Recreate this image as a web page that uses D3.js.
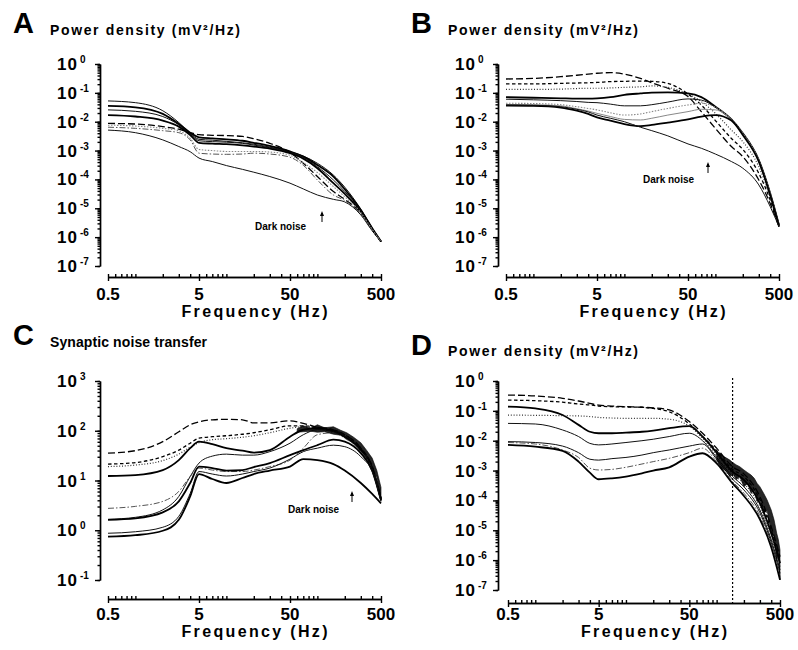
<!DOCTYPE html>
<html>
<head>
<meta charset="utf-8">
<script src="https://cdn.jsdelivr.net/npm/d3@7"></script>
<style>
body { margin: 0; background: #fff; }
svg text { font-family: "Liberation Sans", Arial, sans-serif; font-weight: bold; fill: #000; }
</style>
</head>
<body>
<svg id="fig" width="798" height="650"></svg>
<script>
// frequency grid (Hz) shared by every trace
const freqs = [0.5, 1, 2, 3, 4, 5, 7, 10, 15, 20, 30, 50, 70, 100, 150, 200, 300, 400, 500]

// A: log10 power density (mV^2/Hz)
const aDark    = [-2.29,-2.38,-2.63,-2.86,-3.04,-3.26,-3.38,-3.52,-3.65,-3.75,-3.90,-4.13,-4.33,-4.54,-4.69,-4.78,-5.23,-5.78,-6.15]
const aSolid1  = [-1.28,-1.34,-1.62,-2.03,-2.40,-2.61,-2.64,-2.68,-2.73,-2.78,-2.88,-3.04,-3.19,-3.44,-3.85,-4.27,-5.03,-5.68,-6.15]
const aThick1  = [-1.45,-1.50,-1.73,-2.08,-2.38,-2.54,-2.58,-2.61,-2.66,-2.73,-2.84,-3.03,-3.21,-3.50,-3.90,-4.34,-5.06,-5.69,-6.15]
const aSolid2  = [-1.59,-1.64,-1.82,-2.11,-2.42,-2.66,-2.69,-2.71,-2.75,-2.81,-2.90,-3.06,-3.23,-3.56,-4.02,-4.42,-5.09,-5.70,-6.15]
const aThick2  = [-1.77,-1.82,-1.96,-2.17,-2.46,-2.73,-2.76,-2.78,-2.82,-2.86,-2.93,-3.09,-3.28,-3.61,-4.13,-4.50,-5.12,-5.72,-6.15]
const aDashed  = [-2.06,-2.08,-2.17,-2.26,-2.38,-2.45,-2.47,-2.48,-2.51,-2.59,-2.75,-3.07,-3.44,-3.90,-4.42,-4.69,-5.17,-5.74,-6.15]
const aDotted  = [-2.12,-2.15,-2.23,-2.31,-2.58,-2.96,-3.00,-3.03,-3.03,-3.03,-3.05,-3.16,-3.42,-3.76,-4.25,-4.60,-5.15,-5.73,-6.15]
const aDashDot = [-2.19,-2.23,-2.31,-2.38,-2.63,-3.09,-3.12,-3.13,-3.12,-3.09,-3.12,-3.23,-3.51,-4.02,-4.54,-4.73,-5.20,-5.75,-6.15]

// B: log10 power density (mV^2/Hz)
const bLongDash  = [-0.52,-0.50,-0.44,-0.39,-0.35,-0.32,-0.30,-0.35,-0.50,-0.65,-0.84,-1.13,-1.65,-2.23,-2.86,-3.21,-4.02,-4.83,-5.64]
const bShortDash = [-0.69,-0.69,-0.67,-0.66,-0.65,-0.64,-0.61,-0.60,-0.59,-0.60,-0.67,-1.04,-1.42,-1.96,-2.58,-2.96,-3.79,-4.71,-5.64]
const bDotted    = [-0.88,-0.88,-0.87,-0.85,-0.84,-0.84,-0.83,-0.81,-0.79,-0.76,-0.81,-1.04,-1.30,-1.71,-2.29,-2.69,-3.56,-4.60,-5.61]
const bThick1    = [-1.15,-1.17,-1.19,-1.20,-1.20,-1.19,-1.15,-1.07,-1.02,-0.99,-0.98,-1.02,-1.15,-1.48,-1.92,-2.40,-3.33,-4.48,-5.58]
const bSolid1    = [-1.22,-1.24,-1.27,-1.30,-1.33,-1.34,-1.39,-1.45,-1.45,-1.41,-1.32,-1.21,-1.25,-1.50,-1.92,-2.40,-3.33,-4.48,-5.58]
const bGray1     = [-1.36,-1.37,-1.41,-1.48,-1.54,-1.59,-1.69,-1.77,-1.73,-1.65,-1.54,-1.42,-1.36,-1.50,-1.92,-2.40,-3.33,-4.48,-5.59]
const bGray2     = [-1.40,-1.41,-1.45,-1.55,-1.63,-1.71,-1.82,-1.92,-1.94,-1.88,-1.77,-1.65,-1.57,-1.59,-1.94,-2.42,-3.35,-4.50,-5.60]
const bThick2    = [-1.44,-1.45,-1.51,-1.62,-1.73,-1.85,-1.96,-2.08,-2.15,-2.11,-2.03,-1.92,-1.82,-1.77,-1.96,-2.46,-3.38,-4.54,-5.61]
const bDark      = [-1.42,-1.43,-1.48,-1.57,-1.66,-1.77,-1.88,-2.00,-2.19,-2.31,-2.49,-2.77,-2.92,-3.12,-3.38,-3.61,-4.19,-4.94,-5.64]

// C: log10 synaptic noise transfer
const cLongDash  = [1.55,1.60,1.78,1.98,2.12,2.18,2.22,2.23,2.22,2.16,2.16,2.20,2.15,2.07,2.02,1.92,1.65,1.28,0.64]
const cShortDash = [1.33,1.36,1.48,1.61,1.75,1.85,1.88,1.90,1.93,1.96,2.02,2.10,2.10,2.07,2.02,1.92,1.65,1.28,0.64]
const cDotted    = [1.28,1.31,1.40,1.53,1.67,1.76,1.82,1.84,1.87,1.90,1.96,2.05,2.08,2.07,2.00,1.90,1.63,1.27,0.64]
const cThick1    = [1.09,1.11,1.21,1.41,1.65,1.78,1.73,1.65,1.60,1.56,1.61,1.88,2.02,2.05,2.00,1.88,1.61,1.25,0.62]
const cSolid1    = [0.22,0.26,0.41,0.68,1.08,1.35,1.49,1.53,1.51,1.51,1.58,1.75,1.92,2.02,1.98,1.87,1.60,1.23,0.62]
const cDashDot   = [0.44,0.48,0.58,0.78,1.08,1.25,1.21,1.18,1.18,1.21,1.28,1.41,1.65,1.92,1.96,1.85,1.58,1.21,0.61]
const cThick2    = [0.21,0.24,0.36,0.58,0.95,1.28,1.25,1.20,1.21,1.27,1.35,1.51,1.61,1.71,1.82,1.78,1.55,1.20,0.60]
const cSolid2    = [-0.06,-0.03,0.06,0.28,0.74,1.18,1.13,1.09,1.13,1.18,1.25,1.43,1.58,1.65,1.71,1.68,1.48,1.18,0.58]
const cDark      = [-0.13,-0.10,-0.01,0.21,0.68,1.13,1.03,0.95,1.05,1.13,1.20,1.28,1.43,1.41,1.33,1.20,0.95,0.73,0.54]
// C: noisy high-frequency band (log10 upper / lower edge)
const cBandF  = [60, 70, 85, 100, 120, 150, 180, 210, 250, 300, 350, 400, 450, 500]
const cBandHi = [2.04,2.10,2.05,2.12,2.06,2.08,2.01,1.96,1.87,1.76,1.60,1.45,1.20,0.86]
const cBandLo = [1.97,1.98,1.99,1.97,1.98,1.93,1.91,1.84,1.77,1.60,1.49,1.27,1.06,0.60]

// D: log10 power density (mV^2/Hz)
const dLongDash  = [-0.47,-0.50,-0.58,-0.67,-0.75,-0.81,-0.84,-0.86,-0.88,-0.90,-0.97,-1.36,-1.75,-2.25,-2.87,-3.11,-3.87,-4.88,-5.88]
const dShortDash = [-0.64,-0.66,-0.71,-0.77,-0.80,-0.84,-0.86,-0.87,-0.88,-0.92,-1.03,-1.44,-1.86,-2.33,-2.96,-3.20,-3.98,-4.99,-5.99]
const dThick1    = [-0.86,-0.92,-1.14,-1.47,-1.70,-1.75,-1.75,-1.73,-1.70,-1.66,-1.58,-1.51,-1.86,-2.40,-3.04,-3.31,-4.10,-5.10,-6.10]
const dDotted    = [-1.14,-1.15,-1.16,-1.17,-1.19,-1.22,-1.24,-1.25,-1.25,-1.25,-1.28,-1.51,-1.92,-2.48,-3.11,-3.43,-4.21,-5.21,-6.22]
const dSolid1    = [-1.42,-1.44,-1.64,-1.86,-2.09,-2.14,-2.11,-2.06,-2.00,-1.95,-1.86,-1.75,-2.00,-2.56,-3.20,-3.54,-4.32,-5.32,-6.33]
const dSolid2    = [-2.03,-2.06,-2.18,-2.40,-2.62,-2.65,-2.60,-2.56,-2.48,-2.40,-2.31,-2.18,-2.11,-2.62,-3.29,-3.65,-4.41,-5.41,-6.44]
const dDashDot   = [-2.06,-2.11,-2.31,-2.56,-2.92,-2.98,-2.96,-2.89,-2.78,-2.70,-2.59,-2.40,-2.25,-2.70,-3.37,-3.76,-4.52,-5.49,-6.55]
const dThick2    = [-2.14,-2.20,-2.34,-2.70,-3.07,-3.29,-3.26,-3.20,-3.09,-3.00,-2.89,-2.53,-2.42,-2.76,-3.43,-3.85,-4.63,-5.57,-6.66]
// D: noisy high-frequency band
const dBandF  = [100, 110, 120, 130, 140, 150, 165, 180, 200, 220, 240, 260, 280, 300, 330, 360, 400, 430, 460, 480, 500]
const dBandHi = [-2.37,-2.42,-2.53,-2.59,-2.65,-2.73,-2.81,-2.87,-2.98,-3.07,-3.15,-3.26,-3.43,-3.54,-3.76,-3.98,-4.32,-4.65,-5.10,-5.32,-5.66]
const dBandLo = [-2.65,-2.87,-2.96,-3.04,-3.20,-3.09,-3.31,-3.20,-3.54,-3.43,-3.76,-3.65,-4.04,-3.98,-4.43,-4.32,-5.10,-5.21,-5.99,-5.77,-6.66]
const dCutoff = 150

// tick labels
const xTickLabels = [0.5, 5, 50, 500]
const powerExps = [0, -1, -2, -3, -4, -5, -6, -7]
const transferExps = [3, 2, 1, 0, -1]

const styles = {
    solid:     { w: 1,   dash: null,        color: "#111" },
    thick:     { w: 1.8, dash: null,        color: "#000" },
    gray:      { w: 1,   dash: null,        color: "#888" },
    longDash:  { w: 1.3, dash: "7,3",       color: "#000" },
    shortDash: { w: 1.3, dash: "3.5,2.5",   color: "#000" },
    dotted:    { w: 1.2, dash: "1,1.8",     color: "#333" },
    grayDot:   { w: 1.1, dash: "1.5,1.5",   color: "#888" },
    dashDot:   { w: 1,   dash: "6,2,1.5,2", color: "#555" }
}

const panels = [
    { letter: "A", lx: 13, ly: 33, title: "Power density (mV²/Hz)", tx: 50, ty: 35, tw: 190,
      ax: 100, x0: 108, x1: 381, yTop: 64, yBot: 266, exps: powerExps,
      xAxisY: 277, labelY: 300, freqY: 317,
      series: [[aDark,"solid"],[aSolid1,"solid"],[aThick1,"thick"],[aSolid2,"solid"],[aThick2,"thick"],
               [aDashed,"longDash"],[aDotted,"grayDot"],[aDashDot,"dashDot"]],
      note: { x: 255, y: 230, ax: 322, ay: 222 } },
    { letter: "B", lx: 411, ly: 33, title: "Power density (mV²/Hz)", tx: 448, ty: 35, tw: 190,
      ax: 498, x0: 506, x1: 779, yTop: 64, yBot: 266, exps: powerExps,
      xAxisY: 277, labelY: 300, freqY: 317,
      series: [[bLongDash,"longDash"],[bShortDash,"shortDash"],[bDotted,"dotted"],[bThick1,"thick"],
               [bSolid1,"solid"],[bGray1,"grayDot"],[bGray2,"gray"],[bThick2,"thick"],[bDark,"solid"]],
      note: { x: 643, y: 183, ax: 708, ay: 173 } },
    { letter: "C", lx: 13, ly: 345, title: "Synaptic noise transfer", tx: 50, ty: 347, tw: 157,
      ax: 100, x0: 108, x1: 381, yTop: 381, yBot: 580, exps: transferExps,
      xAxisY: 599, labelY: 620, freqY: 637,
      series: [[cLongDash,"longDash"],[cShortDash,"shortDash"],[cDotted,"dotted"],[cThick1,"thick"],
               [cSolid1,"solid"],[cDashDot,"dashDot"],[cThick2,"thick"],[cSolid2,"solid"],[cDark,"thick"]],
      band: [cBandF, cBandHi, cBandLo],
      note: { x: 288, y: 513, ax: 352, ay: 502 } },
    { letter: "D", lx: 411, ly: 355, title: "Power density (mV²/Hz)", tx: 448, ty: 356, tw: 190,
      ax: 498, x0: 508, x1: 780, yTop: 381, yBot: 590, exps: powerExps,
      xAxisY: 603, labelY: 620, freqY: 637,
      series: [[dLongDash,"longDash"],[dShortDash,"shortDash"],[dThick1,"thick"],[dDotted,"dotted"],
               [dSolid1,"solid"],[dSolid2,"solid"],[dDashDot,"dashDot"],[dThick2,"thick"]],
      band: [dBandF, dBandHi, dBandLo],
      cutoff: dCutoff }
]

const svg = d3.select("#fig")

function draw(p) {
    let x = d3.scaleLog().domain([0.5, 500]).range([p.x0, p.x1])
    let y = d3.scaleLog()
        .domain([10 ** p.exps[0], 10 ** p.exps[p.exps.length - 1]])
        .range([p.yTop, p.yBot])
    let g = svg.append("g")

    // panel letter and title
    g.append("text").attr("x", p.lx).attr("y", p.ly).attr("font-size", 29).text(p.letter)
    g.append("text").attr("x", p.tx).attr("y", p.ty).attr("font-size", 14)
        .attr("textLength", p.tw).attr("lengthAdjust", "spacing").text(p.title)

    // y axis, minor + major ticks
    g.append("g").attr("transform", `translate(${p.ax},0)`)
        .call(d3.axisLeft(y).tickValues(y.ticks()).tickSize(2.5).tickSizeOuter(0).tickFormat(""))
    g.append("g").attr("transform", `translate(${p.ax},0)`)
        .call(d3.axisLeft(y).tickValues(p.exps.map(e => 10 ** e)).tickSize(5).tickSizeOuter(0).tickFormat(""))

    g.selectAll(".ylab")
        .data(p.exps)
        .join("text")
        .attr("x", p.ax - 22)
        .attr("y", e => y(10 ** e) + 6)
        .attr("text-anchor", "end")
        .attr("font-size", 17)
        .attr("letter-spacing", 1)
        .text("10")
    g.selectAll(".yexp")
        .data(p.exps)
        .join("text")
        .attr("x", p.ax - 20)
        .attr("y", e => y(10 ** e) - 1)
        .attr("font-size", 10)
        .text(e => e < 0 ? "-" + (-e) : e)

    // x axis, minor ticks up, major ticks down
    g.append("g").attr("transform", `translate(0,${p.xAxisY})`)
        .call(d3.axisTop(x).tickValues(x.ticks()).tickSize(3).tickSizeOuter(0).tickFormat(""))
    g.append("g").attr("transform", `translate(0,${p.xAxisY})`)
        .call(d3.axisBottom(x).tickValues(xTickLabels).tickSize(4).tickSizeOuter(0).tickFormat(""))

    g.selectAll(".xlab")
        .data(xTickLabels)
        .join("text")
        .attr("x", d => x(d))
        .attr("y", p.labelY)
        .attr("text-anchor", "middle")
        .attr("font-size", 17)
        .text(d => d)
    g.append("text")
        .attr("x", (p.x0 + p.x1) / 2 + 10)
        .attr("y", p.freqY)
        .attr("text-anchor", "middle")
        .attr("font-size", 16)
        .attr("textLength", 146)
        .attr("lengthAdjust", "spacing")
        .text("Frequency (Hz)")

    g.selectAll(".domain, .tick line").attr("stroke", "#000").attr("stroke-width", 1.4)

    // traces
    let line = d3.line()
        .x(d => x(d[0]))
        .y(d => y(10 ** d[1]))
        .curve(d3.curveMonotoneX)

    p.series.forEach(([vals, s]) => {
        let st = styles[s]
        g.append("path")
            .datum(freqs.map((f, i) => [f, vals[i]]))
            .attr("d", line)
            .attr("fill", "none")
            .attr("stroke", st.color)
            .attr("stroke-width", st.w)
            .attr("stroke-dasharray", st.dash)
    })

    if (p.band) {
        let [bf, hi, lo] = p.band
        let area = d3.area()
            .x(d => x(d[0]))
            .y0(d => y(10 ** d[2]))
            .y1(d => y(10 ** d[1]))
        g.append("path")
            .datum(bf.map((f, i) => [f, hi[i], lo[i]]))
            .attr("d", area)
            .attr("fill", "#000")
            .attr("fill-opacity", 0.85)
            .attr("stroke", "#000")
            .attr("stroke-width", 0.6)
    }

    if (p.cutoff) {
        g.append("line")
            .attr("x1", x(p.cutoff)).attr("x2", x(p.cutoff))
            .attr("y1", y(1) - 3).attr("y2", p.xAxisY)
            .attr("stroke", "#000")
            .attr("stroke-width", 1.2)
            .attr("stroke-dasharray", "2,2")
    }

    if (p.note) {
        let n = p.note
        g.append("text").attr("x", n.x).attr("y", n.y).attr("font-size", 10).text("Dark noise")
        g.append("line")
            .attr("x1", n.ax).attr("x2", n.ax)
            .attr("y1", n.ay).attr("y2", n.ay - 9)
            .attr("stroke", "#000").attr("stroke-width", 1)
        g.append("path")
            .attr("d", `M${n.ax},${n.ay - 11}l-2,5h4z`)
            .attr("fill", "#000")
    }
}

panels.forEach(draw)
</script>
</body>
</html>
